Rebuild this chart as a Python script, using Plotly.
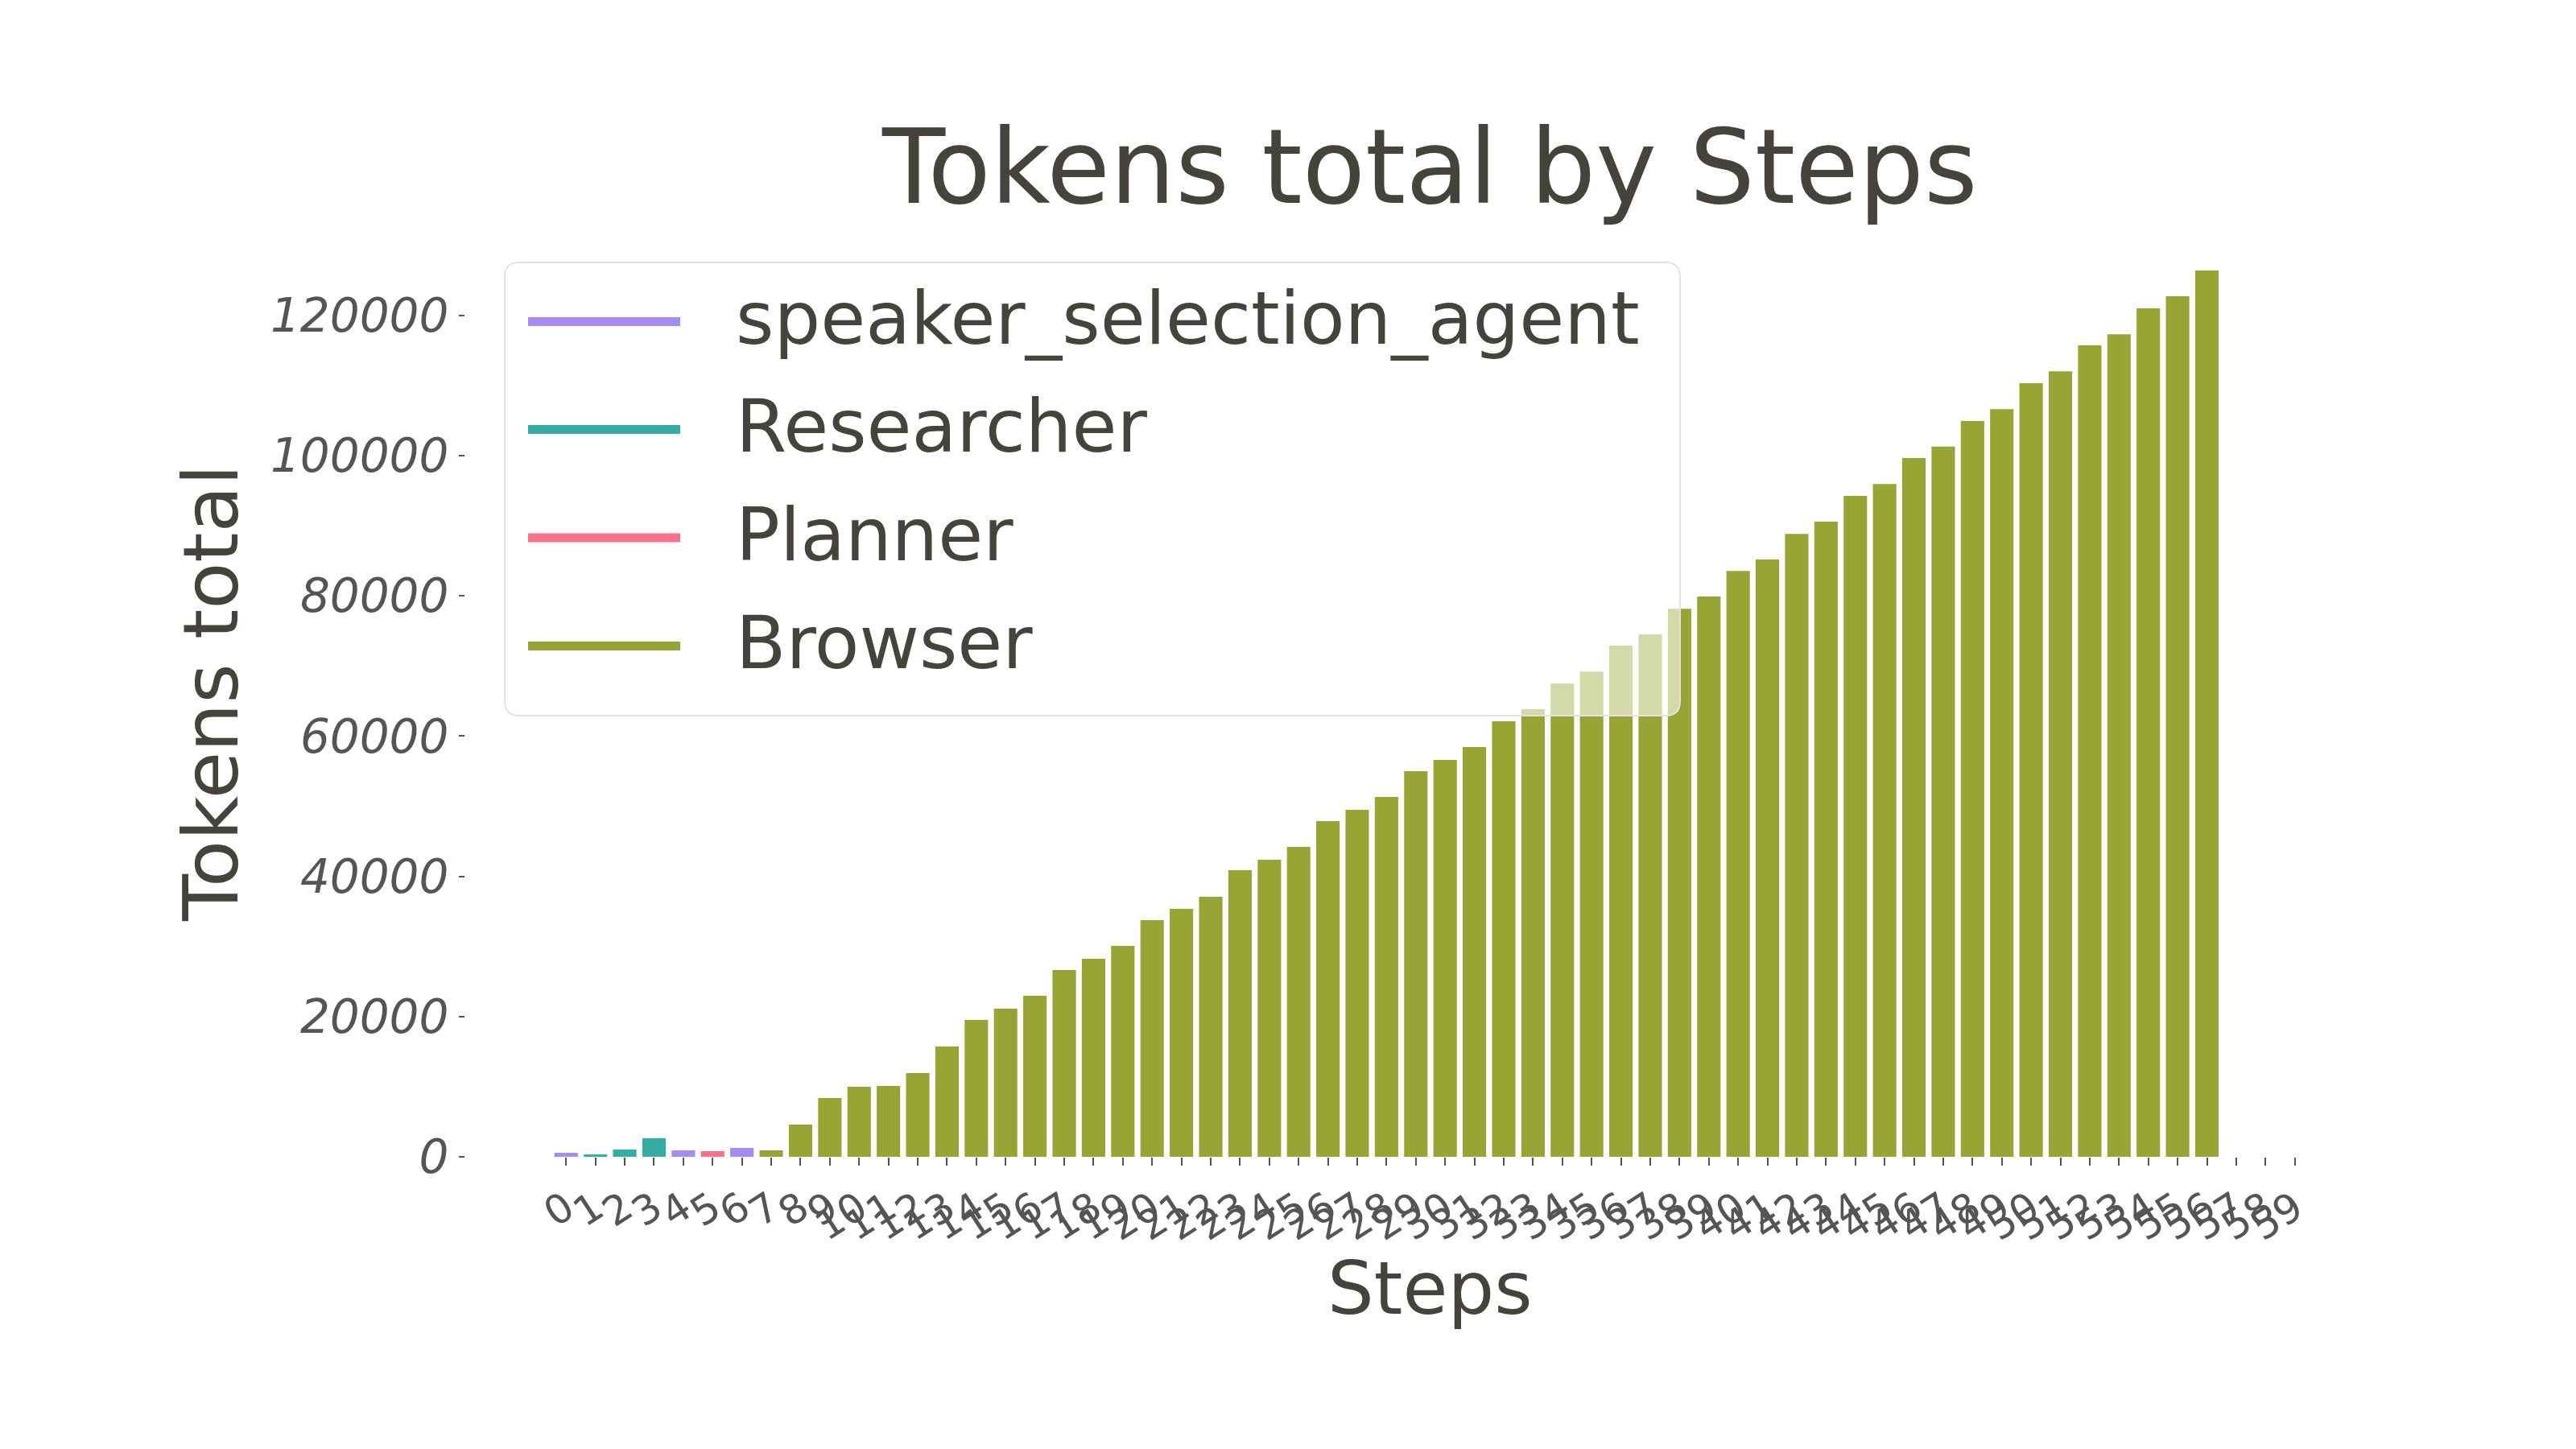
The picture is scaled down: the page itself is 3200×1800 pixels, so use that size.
import plotly.graph_objects as go

# ---------------- data ----------------
steps = list(range(57))
tick_steps = list(range(60))
tick_labels = [str(s) for s in tick_steps]
agent_of_step = (["speaker_selection_agent", "Researcher", "Researcher", "Researcher",
                  "speaker_selection_agent", "Planner", "speaker_selection_agent"]
                 + ["Browser"] * 50)
tokens_total = [570, 340, 1030, 2640, 920, 800, 1260, 920, 4590, 8380,
                9990, 10100, 11940, 15730, 19520, 21120, 22960, 26630, 28240, 30080,
                33750, 35360, 37080, 40870, 42360, 44200, 47870, 49480, 51320, 54990,
                56600, 58430, 62100, 63830, 67480, 69200, 72890, 74500, 78150, 79910,
                83560, 85180, 88830, 90590, 94240, 95950, 99650, 101270, 104920, 106630,
                110320, 112030, 115720, 117300, 121000, 122710, 126400]
agents = ["speaker_selection_agent", "Researcher", "Planner", "Browser"]
agent_colors = ["#a48cf0", "#36ada4", "#f77189", "#98a534"]
y_ticks = [0, 20000, 40000, 60000, 80000, 100000, 120000]

# ---------------- layout geometry (pixels) ----------------
W, H = 3200, 1800
PL, PR, PT, PB = 578, 2974, 281, 1437
TEXT = "#46423c"
TICK = "#555555"
FONT = "DejaVu Sans"


def px(x):
    return (x - PL) / (PR - PL)


def py(y):
    return (PB - y) / (PB - PT)


fig = go.Figure()
for name, col in zip(agents, agent_colors):
    xs = [s for s, a in zip(steps, agent_of_step) if a == name]
    ys = [v for v, a in zip(tokens_total, agent_of_step) if a == name]
    fig.add_trace(go.Bar(x=xs, y=ys, name=name, marker=dict(color=col, line=dict(width=0)),
                         width=0.8, showlegend=False))

shapes = []
annotations = []

# legend (manual, line-style keys)
bx0, bx1, by0, by1 = 627, 2087, 326, 889
r = 18
x0p, x1p = px(bx0), px(bx1)
y0p, y1p = py(by1), py(by0)
rx = r / (PR - PL)
ry = r / (PB - PT)
path = (f"M {x0p + rx},{y0p} L {x1p - rx},{y0p} Q {x1p},{y0p} {x1p},{y0p + ry} "
        f"L {x1p},{y1p - ry} Q {x1p},{y1p} {x1p - rx},{y1p} L {x0p + rx},{y1p} "
        f"Q {x0p},{y1p} {x0p},{y1p - ry} L {x0p},{y0p + ry} Q {x0p},{y0p} {x0p + rx},{y0p} Z")
shapes.append(dict(type="path", xref="paper", yref="paper", path=path,
                   fillcolor="rgba(255,255,255,0.58)", line=dict(color="#e2e2e2", width=2),
                   layer="above"))
row_y = [399.5, 533.5, 668, 802.5]
for name, col, yy in zip(agents, agent_colors, row_y):
    shapes.append(dict(type="line", xref="paper", yref="paper", x0=px(656), x1=px(845),
                       y0=py(yy), y1=py(yy), line=dict(color=col, width=11), layer="above"))
    annotations.append(dict(text=name, xref="paper", yref="paper", x=px(912), y=py(yy - 4),
                            xanchor="left", yanchor="middle", showarrow=False,
                            font=dict(family=FONT, size=91, color=TEXT)))

# title and axis titles
annotations.append(dict(text="Tokens total by Steps", xref="paper", yref="paper",
                        x=px(1776), y=py(208), xanchor="center", yanchor="middle",
                        showarrow=False, font=dict(family=FONT, size=128, color=TEXT)))
annotations.append(dict(text="Steps", xref="paper", yref="paper", x=px(1776), y=py(1600),
                        xanchor="center", yanchor="middle", showarrow=False,
                        font=dict(family=FONT, size=91, color=TEXT)))
annotations.append(dict(text="Tokens total", xref="paper", yref="paper", x=px(262), y=py(861),
                        xanchor="center", yanchor="middle", textangle=-90, showarrow=False,
                        font=dict(family=FONT, size=95, color=TEXT)))

fig.update_layout(
    width=W, height=H,
    margin=dict(l=PL, r=W - PR, t=PT, b=H - PB, pad=0),
    paper_bgcolor="white", plot_bgcolor="white",
    barmode="overlay",
    shapes=shapes, annotations=annotations,
    showlegend=False,
)
fig.update_xaxes(range=[-(703.3 - PL) / 36.4, 59 + (PR - 2850.7) / 36.4],
                 tickvals=tick_steps, ticktext=tick_labels, tickangle=-33,
                 ticks="outside", ticklen=10, tickwidth=2, tickcolor=TICK,
                 ticklabelstandoff=4,
                 showgrid=False, zeroline=False, showline=False,
                 tickfont=dict(family="DejaVu Sans", size=50, color=TICK))
fig.update_yaxes(range=[0, (PB - PT) * 114.8], tickvals=y_ticks,
                 ticktext=[str(v) for v in y_ticks],
                 ticks="outside", ticklen=7, tickwidth=2, tickcolor=TICK,
                 ticklabelstandoff=1,
                 showgrid=False, zeroline=False, showline=False,
                 tickfont=dict(family="DejaVu Sans", size=58, color=TICK, style="italic"))

fig.write_html("out.html", post_script="document.body.style.margin='0';",
               config={"displayModeBar": False})
